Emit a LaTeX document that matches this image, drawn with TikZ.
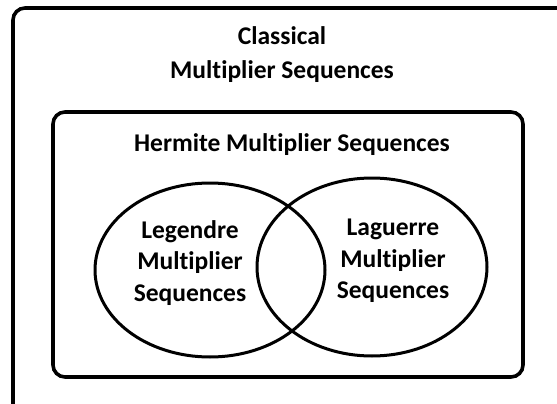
\documentclass[tikz,border=0pt]{standalone}
\usepackage{fontspec}
\setmainfont[Ligatures=NoCommon]{Carlito}
\begin{document}
\begin{tikzpicture}[x=1pt,y=-1pt,
  box/.style={draw,line width=3.6pt,rounded corners=12pt},
  set/.style={draw,line width=3pt},
  lbl/.style={font=\bfseries\fontsize{25.5}{31.5}\selectfont,align=center,inner sep=0pt}]
\useasboundingbox (0,0) rectangle (557,404);
\clip (0,0) rectangle (557,404);
\draw[box] (13,8) rectangle (570,418);
\draw[box] (53,112) rectangle (523,377);
\draw[set] (210,270) ellipse [x radius=115, y radius=87];
\draw[set] (372,267) ellipse [x radius=115, y radius=89];
\node[lbl] (classical) at (282,55) {Classical\\[2.5pt]Multiplier Sequences};
\node[lbl] (hermite) at (292,145) {Hermite Multiplier Sequences};
\node[lbl] (legendre) at (190,263) {Legendre\\Multiplier\\Sequences};
\node[lbl] (laguerre) at (393,261) {Laguerre\\Multiplier\\Sequences};
\end{tikzpicture}
\end{document}
